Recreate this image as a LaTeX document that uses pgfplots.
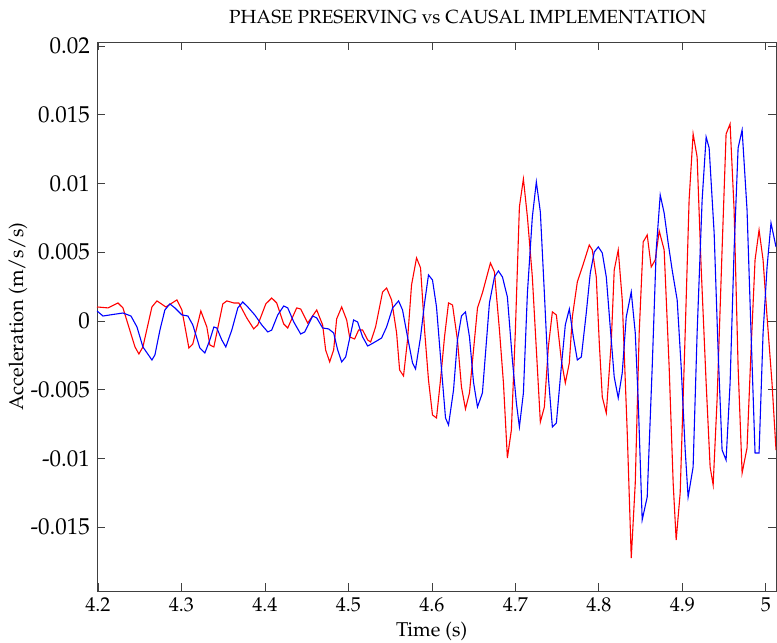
\documentclass[border=0pt]{standalone}
\usepackage[T1]{fontenc}
\usepackage{mathpazo}
\usepackage{pgfplots}
\pgfplotsset{compat=1.18}

\begin{document}
\begin{tikzpicture}
\begin{axis}[scale only axis,width=339.5pt,height=274.5pt,
  xmin=4.1988,xmax=5.0122,ymin=-0.01965,ymax=0.0203,
  scaled y ticks=false,scaled x ticks=false,
  xtick={4.2,4.3,4.4,4.5,4.6,4.7,4.8,4.9,5.0},xticklabels={4.2,4.3,4.4,4.5,4.6,4.7,4.8,4.9,5},
  ytick={-0.015,-0.01,-0.005,0,0.005,0.01,0.015,0.02},
  yticklabels={-0.015,-0.01,-0.005,0,0.005,0.01,0.015,0.02},
  tick align=inside,major tick length=4pt,
  axis line style={black!75},every tick/.style={black!75},
  xticklabel style={font=\fontsize{10}{12}\selectfont},
  yticklabel style={font=\fontsize{11.5}{13}\selectfont},
  label style={font=\fontsize{10}{12}\selectfont},
  xlabel={Time (s)},ylabel={Acceleration (m/s/s)},
  xlabel style={at={(axis description cs:0.493,-0.0729)},anchor=center},
  ylabel style={at={(axis description cs:-0.1163,0.5)},anchor=center},
  title={PHASE PRESERVING vs CAUSAL IMPLEMENTATION},
  title style={font=\fontsize{9.5}{12}\selectfont,at={(axis description cs:0.546,1)},anchor=center,yshift=6.5pt},
  clip=true]
% phase preserving
\addplot[red,line width=0.55pt] coordinates {
(4.1988,0.00102) (4.2120,0.00095) (4.2239,0.00131) (4.2299,0.00095) (4.2443,-0.00189) (4.2490,-0.00240) (4.2538,-0.00189) (4.2646,0.00102) (4.2706,0.00146) (4.2813,0.00102) (4.2945,0.00153) (4.3005,0.00080) (4.3089,-0.00197) (4.3136,-0.00167) (4.3232,0.00073) (4.3304,-0.00044) (4.3340,-0.00175) (4.3388,-0.00189) (4.3495,0.00124) (4.3543,0.00146) (4.3627,0.00131) (4.3687,0.00131) (4.3782,0.00022) (4.3866,-0.00058) (4.3914,-0.00029) (4.4010,0.00124) (4.4081,0.00167) (4.4141,0.00131) (4.4225,-0.00022) (4.4273,-0.00051) (4.4380,0.00095) (4.4428,0.00087) (4.4512,-0.00015) (4.4620,0.00080) (4.4691,-0.00029) (4.4727,-0.00211) (4.4775,-0.00298) (4.4823,-0.00211) (4.4859,0.00015) (4.4919,0.00102) (4.4979,0.00007) (4.5014,-0.00116) (4.5074,-0.00131) (4.5122,-0.00066) (4.5170,-0.00066) (4.5230,-0.00138) (4.5266,-0.00153) (4.5325,-0.00044) (4.5409,0.00211) (4.5457,0.00240) (4.5517,0.00153) (4.5577,-0.00087) (4.5613,-0.00357) (4.5660,-0.00400) (4.5708,-0.00138) (4.5756,0.00262) (4.5816,0.00459) (4.5864,0.00386) (4.5912,-0.00066) (4.5959,-0.00429) (4.6007,-0.00684) (4.6055,-0.00706) (4.6103,-0.00429) (4.6151,-0.00116) (4.6199,0.00131) (4.6247,0.00116) (4.6306,-0.00138) (4.6354,-0.00480) (4.6402,-0.00640) (4.6450,-0.00524) (4.6546,0.00095) (4.6605,0.00204) (4.6701,0.00422) (4.6749,0.00357) (4.6809,-0.00066) (4.6857,-0.00451) (4.6904,-0.00997) (4.6952,-0.00793) (4.7000,-0.00066) (4.7048,0.00830) (4.7096,0.01033) (4.7144,0.00757) (4.7203,0.00320) (4.7299,-0.00735) (4.7347,-0.00626) (4.7395,-0.00189) (4.7443,0.00066) (4.7491,0.00044) (4.7550,-0.00284) (4.7598,-0.00451) (4.7646,-0.00306) (4.7682,0.00029) (4.7742,0.00284) (4.7802,0.00393) (4.7885,0.00553) (4.7921,0.00517) (4.7969,0.00320) (4.8005,-0.00160) (4.8041,-0.00553) (4.8089,-0.00670) (4.8148,-0.00160) (4.8184,0.00371) (4.8232,0.00517) (4.8280,0.00153) (4.8340,-0.00815) (4.8388,-0.01725) (4.8436,-0.01179) (4.8483,-0.00087) (4.8531,0.00575) (4.8579,0.00626) (4.8627,0.00393) (4.8675,0.00444) (4.8723,0.00655) (4.8782,0.00517) (4.8842,-0.00335) (4.8890,-0.01179) (4.8926,-0.01594) (4.8974,-0.01252) (4.9034,-0.00087) (4.9081,0.00881) (4.9129,0.01361) (4.9177,0.01194) (4.9225,0.00393) (4.9285,-0.00451) (4.9333,-0.01063) (4.9369,-0.01194) (4.9416,-0.00575) (4.9476,0.00517) (4.9524,0.01361) (4.9572,0.01434) (4.9620,0.00808) (4.9668,-0.00335) (4.9716,-0.01106) (4.9775,-0.00924) (4.9823,-0.00211) (4.9871,0.00444) (4.9919,0.00662) (4.9967,0.00444) (5.0015,0.00029) (5.0074,-0.00451) (5.0122,-0.00939)
};
% causal
\addplot[blue,line width=0.55pt] coordinates {
(4.1988,0.00073) (4.2060,0.00036) (4.2144,0.00044) (4.2299,0.00058) (4.2395,0.00036) (4.2467,-0.00044) (4.2538,-0.00189) (4.2646,-0.00284) (4.2682,-0.00247) (4.2742,-0.00066) (4.2801,0.00080) (4.2861,0.00124) (4.2921,0.00095) (4.3005,0.00044) (4.3077,0.00036) (4.3136,-0.00029) (4.3220,-0.00197) (4.3280,-0.00233) (4.3340,-0.00138) (4.3388,-0.00044) (4.3423,-0.00051) (4.3483,-0.00138) (4.3531,-0.00189) (4.3603,-0.00066) (4.3675,0.00095) (4.3734,0.00138) (4.3794,0.00102) (4.3878,0.00044) (4.3962,-0.00029) (4.4034,-0.00080) (4.4081,-0.00066) (4.4153,0.00044) (4.4225,0.00109) (4.4273,0.00095) (4.4345,-0.00007) (4.4428,-0.00095) (4.4476,-0.00080) (4.4572,0.00036) (4.4620,0.00022) (4.4691,-0.00051) (4.4763,-0.00058) (4.4823,-0.00087) (4.4871,-0.00211) (4.4919,-0.00298) (4.4967,-0.00262) (4.5062,0.00007) (4.5110,-0.00007) (4.5170,-0.00116) (4.5230,-0.00182) (4.5278,-0.00167) (4.5337,-0.00146) (4.5397,-0.00124) (4.5457,-0.00044) (4.5529,0.00095) (4.5601,0.00146) (4.5648,0.00080) (4.5708,-0.00116) (4.5768,-0.00306) (4.5804,-0.00349) (4.5864,-0.00116) (4.5912,0.00131) (4.5959,0.00335) (4.6007,0.00298) (4.6055,0.00102) (4.6103,-0.00262) (4.6163,-0.00706) (4.6199,-0.00757) (4.6259,-0.00502) (4.6306,-0.00138) (4.6354,0.00036) (4.6402,0.00066) (4.6450,-0.00116) (4.6498,-0.00444) (4.6546,-0.00626) (4.6605,-0.00524) (4.6689,0.00131) (4.6749,0.00320) (4.6797,0.00364) (4.6845,0.00320) (4.6904,0.00175) (4.6964,-0.00284) (4.7012,-0.00597) (4.7048,-0.00771) (4.7096,-0.00524) (4.7144,0.00204) (4.7203,0.00757) (4.7251,0.01012) (4.7299,0.00793) (4.7347,0.00204) (4.7395,-0.00408) (4.7443,-0.00771) (4.7491,-0.00742) (4.7550,-0.00335) (4.7598,-0.00029) (4.7646,0.00087) (4.7694,-0.00116) (4.7742,-0.00284) (4.7790,-0.00262) (4.7849,0.00058) (4.7897,0.00349) (4.7945,0.00502) (4.7993,0.00539) (4.8041,0.00495) (4.8089,0.00320) (4.8136,-0.00044) (4.8184,-0.00408) (4.8232,-0.00560) (4.8280,-0.00378) (4.8328,0.00029) (4.8388,0.00211) (4.8436,-0.00087) (4.8471,-0.00575) (4.8519,-0.01448) (4.8579,-0.01281) (4.8639,-0.00335) (4.8687,0.00517) (4.8735,0.00917) (4.8782,0.00786) (4.8830,0.00568) (4.8878,0.00371) (4.8938,0.00153) (4.8986,-0.00335) (4.9034,-0.00939) (4.9069,-0.01281) (4.9129,-0.01063) (4.9177,-0.00087) (4.9237,0.00881) (4.9285,0.01339) (4.9321,0.01259) (4.9381,0.00640) (4.9428,-0.00211) (4.9476,-0.00939) (4.9524,-0.01012) (4.9572,-0.00451) (4.9620,0.00517) (4.9668,0.01259) (4.9716,0.01390) (4.9775,0.00808) (4.9823,-0.00087) (4.9871,-0.00961) (4.9919,-0.00961) (4.9967,-0.00087) (5.0015,0.00393) (5.0062,0.00713) (5.0122,0.00539)
};
\end{axis}
\pgfresetboundingbox
\useasboundingbox (-48.5pt,-26pt) rectangle (340pt,295.5pt);
\end{tikzpicture}
\end{document}
